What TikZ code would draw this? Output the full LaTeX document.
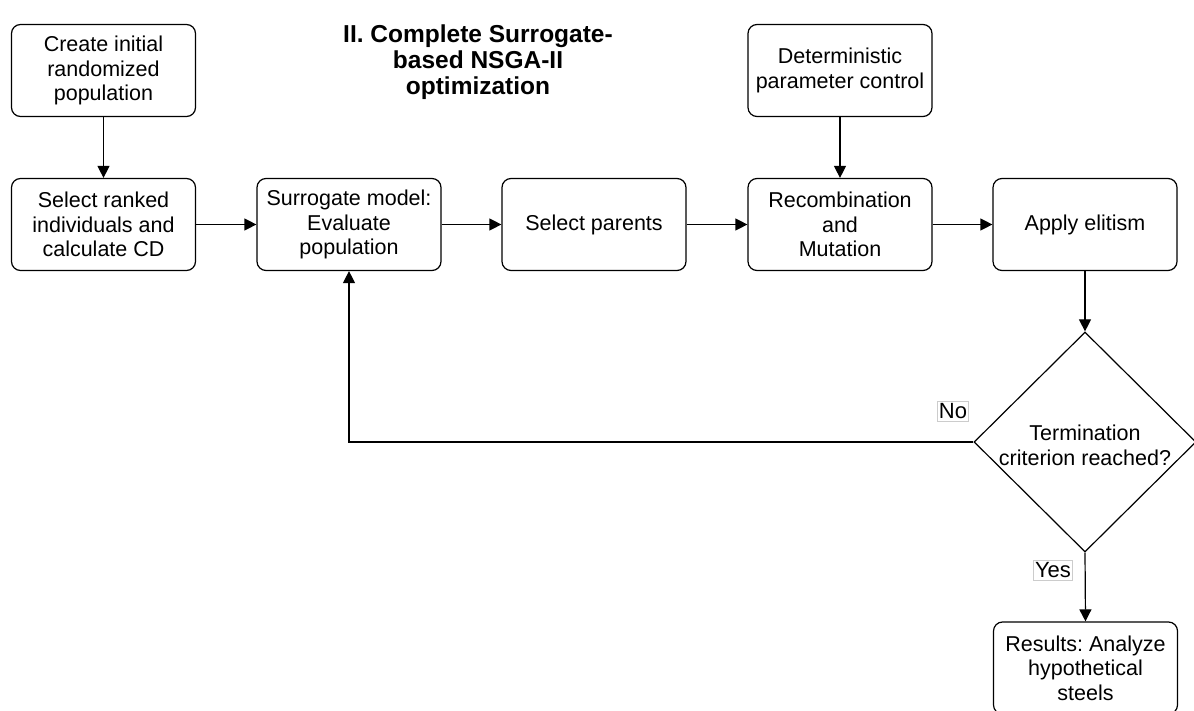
\documentclass[tikz,border=0pt]{standalone}
\usepackage{fontspec}
\setmainfont{Liberation Sans}
\usetikzlibrary{shapes.geometric,arrows.meta}
\frenchspacing
\begin{document}
\begin{tikzpicture}[x=1pt,y=-1pt,
  box/.style={draw, line width=1.2pt, rounded corners=9pt, minimum width=184pt, minimum height=92pt, align=center, inner sep=2pt, font=\fontsize{21.5}{24.5}\selectfont},
  dec/.style={draw, line width=1.2pt, shape=diamond, aspect=1.01, minimum width=222pt, minimum height=220pt, inner sep=0pt, align=center, font=\fontsize{21.5}{24.5}\selectfont},
  arr/.style={line width=1.2pt, -{Triangle[length=12pt,width=12pt]}},
  lbl/.style={draw=black!20, line width=0.6pt, fill=white, inner xsep=1.5pt, inner ysep=2.5pt, font=\fontsize{22}{24}\selectfont},
  ttl/.style={align=center, font=\fontsize{24.5}{26}\selectfont\bfseries}
]
\useasboundingbox (0,0) rectangle (1194,711);
\node[box] (init) at (103.5,70.5) {Create initial\\randomized\\population};
\node[box] (rank) at (103.5,224.5) {Select ranked\\individuals and\\calculate CD};
\node[box] (surr) at (349,224.5) {Surrogate model:\\Evaluate\\population};
\node[box] (sel) at (594,224.5) {Select parents};
\node[box] (rec) at (840,224.5) {Recombination\\and\\Mutation};
\node[box] (elit) at (1085,224.5) {Apply elitism};
\node[box] (det) at (840,70.5) {Deterministic\\parameter control};
\node[dec] (dia) at (1085,442) {\\[-2pt]Termination\\criterion reached?};
\node[box] (res) at (1085.5,668) {Results: Analyze\\hypothetical\\steels};
\node[ttl] (title) at (478,62) {II. Complete Surrogate-\\based NSGA-II\\optimization};

\draw[arr] (init.south) -- (rank.north);
\draw[arr] (rank.east) -- (surr.west);
\draw[arr] (surr.east) -- (sel.west);
\draw[arr] (sel.east) -- (rec.west);
\draw[arr] (rec.east) -- (elit.west);
\draw[arr] (det.south) -- (rec.north);
\draw[arr] (elit.south) -- (dia.north);
\draw[arr] (dia.west) -| (surr.south);
\draw[arr] (dia.south) -- (res.north);

\node[lbl] (no) at (953,411) {No};
\node[lbl] (yes) at (1053,570) {Yes};
\end{tikzpicture}
\end{document}
